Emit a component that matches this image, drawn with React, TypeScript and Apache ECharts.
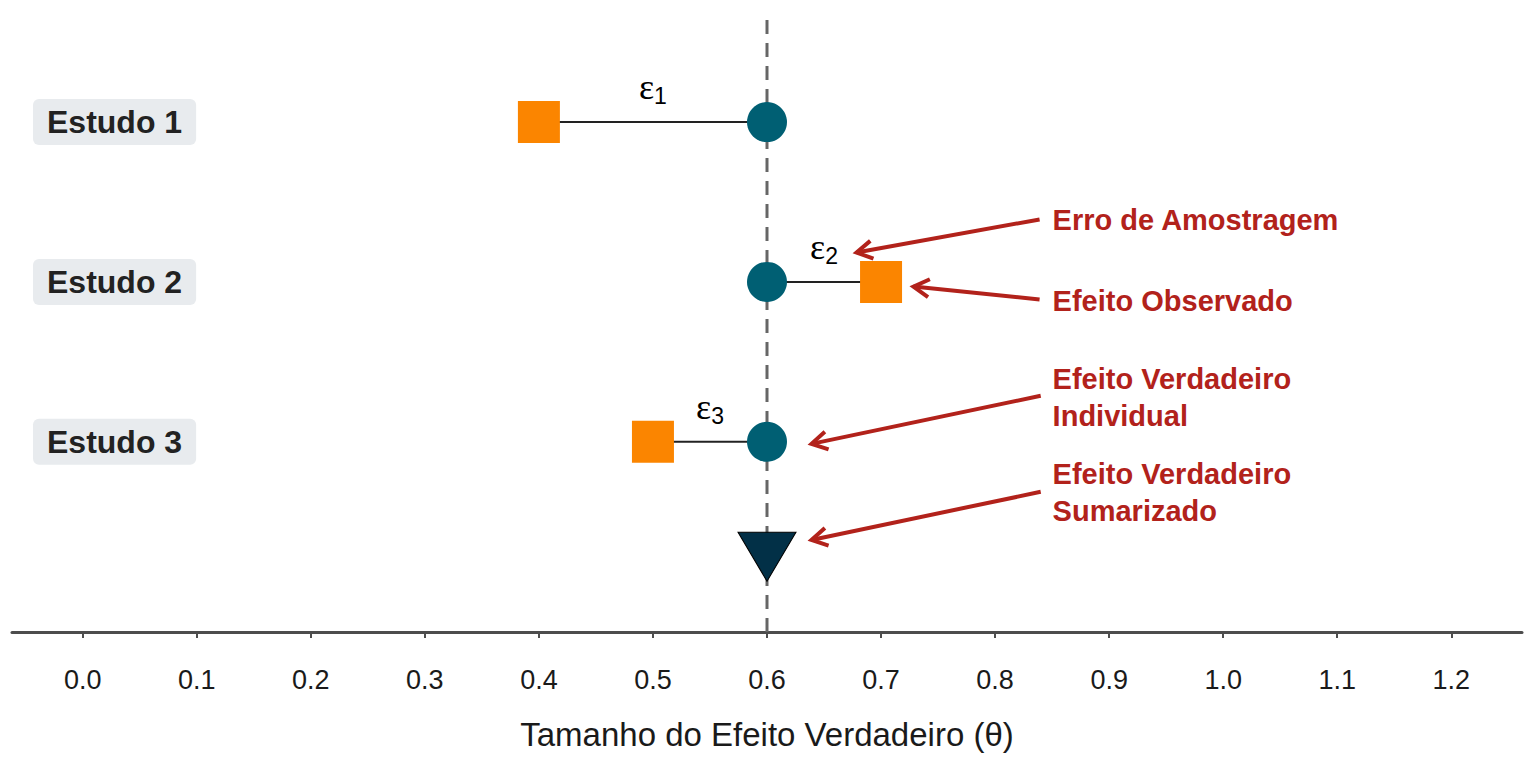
import React, { useEffect, useRef } from "react";
import * as echarts from "echarts";

// ---- data ----
const tickValues = [0, 0.1, 0.2, 0.3, 0.4, 0.5, 0.6, 0.7, 0.8, 0.9, 1.0, 1.1, 1.2];
const studyNames = ["Estudo 1", "Estudo 2", "Estudo 3"];
const studyY = [3, 2, 1];
const observedEffect = [0.4, 0.7, 0.5];
const trueEffect = [0.6, 0.6, 0.6];
const summaryEffect = 0.6;
const summaryY = 0.3;
const epsSub = ["1", "2", "3"];
const epsX = [0.5, 0.65, 0.55];
const epsY = [3.22, 2.22, 1.22];
const noteTexts = [
  "Erro de Amostragem",
  "Efeito Observado",
  "Efeito Verdadeiro\nIndividual",
  "Efeito Verdadeiro\nSumarizado",
];
const noteX = [0.85, 0.85, 0.85, 0.85];
const noteY = [2.385, 1.883, 1.276, 0.68];
const arrowFromX = [0.839, 0.839, 0.84, 0.84];
const arrowFromY = [2.391, 1.89, 1.288, 0.687];
const arrowToX = [0.6785, 0.7284, 0.639, 0.639];
const arrowToY = [2.184, 1.971, 0.987, 0.386];
const xRange = [-0.062, 1.262];
const yRange = [-0.19, 3.67];
const xTitle = "Tamanho do Efeito Verdadeiro (θ)";

const FONT = "'Liberation Sans', Arial, sans-serif";
const SERIF = "'Liberation Serif', 'Times New Roman', serif";
const RED = "#B2221B";
const ORANGE = "#FB8500";
const TEAL = "#005F73";
const NAVY = "#023047";

export default function App() {
  const ref = useRef<HTMLDivElement>(null);
  useEffect(() => {
    if (!ref.current) return;
    const chart = echarts.init(ref.current, null, { renderer: "svg" });

    const segSeries = studyNames.map((name, i) => ({
      type: "line",
      name,
      data: [
        [observedEffect[i], studyY[i]],
        [trueEffect[i], studyY[i]],
      ],
      symbol: "none",
      lineStyle: { color: "#222222", width: 2, opacity: 1 },
      z: 2,
      silent: true,
    }));

    const option: any = {
      animation: false,
      textStyle: { fontFamily: FONT },
      grid: { left: 12, right: 14, top: 15, bottom: 136, containLabel: false },
      xAxis: {
        type: "value",
        min: xRange[0],
        max: xRange[1],
        splitLine: { show: false },
        axisLine: { show: true, onZero: false, lineStyle: { color: "#4D4D4D", width: 3 } },
        axisTick: {
          show: true,
          customValues: tickValues,
          length: 6,
          lineStyle: { color: "#4D4D4D", width: 2 },
        },
        axisLabel: {
          customValues: tickValues,
          formatter: (v: number) => v.toFixed(1),
          fontSize: 27,
          color: "#1A1A1A",
          margin: 34,
          fontFamily: FONT,
        },
        name: xTitle,
        nameLocation: "middle",
        nameGap: 86,
        nameTextStyle: { fontSize: 33, color: "#1A1A1A", fontFamily: FONT },
      },
      yAxis: {
        type: "value",
        min: yRange[0],
        max: yRange[1],
        splitLine: { show: false },
        axisLine: { show: false, onZero: false },
        axisTick: { show: false },
        axisLabel: {
          inside: true,
          customValues: studyY,
          formatter: (v: number) => studyNames[studyY.indexOf(v)] ?? "",
          margin: 21,
          fontSize: 32,
          fontWeight: "bold",
          color: "#222222",
          backgroundColor: "#E8EBEE",
          borderRadius: 6,
          padding: [6, 14, 6, 14],
          lineHeight: 34,
          fontFamily: FONT,
        },
      },
      series: [
        {
          type: "line",
          name: "referencia",
          data: [
            [summaryEffect, yRange[0]],
            [summaryEffect, yRange[1]],
          ],
          symbol: "none",
          lineStyle: { color: "#666666", width: 3, type: [14, 9], opacity: 1 },
          z: 1,
          silent: true,
        },
        ...segSeries,
        {
          type: "scatter",
          name: "observado",
          symbol: "rect",
          symbolSize: 42,
          itemStyle: { color: ORANGE, opacity: 1 },
          data: observedEffect.map((v, i) => [v, studyY[i]]),
          z: 3,
          silent: true,
        },
        {
          type: "scatter",
          name: "verdadeiro",
          symbol: "circle",
          symbolSize: 40,
          itemStyle: { color: TEAL, opacity: 1 },
          data: trueEffect.map((v, i) => [v, studyY[i]]),
          z: 3,
          silent: true,
        },
        {
          type: "scatter",
          name: "sumarizado",
          symbol: "triangle",
          symbolRotate: 180,
          symbolSize: [58, 49],
          symbolOffset: [0, 3],
          itemStyle: { color: NAVY, borderColor: "#000000", borderWidth: 1, opacity: 1 },
          data: [[summaryEffect, summaryY]],
          z: 3,
          silent: true,
        },
        {
          type: "scatter",
          name: "eps",
          symbolSize: 1,
          itemStyle: { color: "transparent", opacity: 1 },
          data: epsX.map((x, i) => [x, epsY[i], epsSub[i]]),
          label: {
            show: true,
            position: "inside",
            formatter: (p: any) => `{e|ε}{s|${p.data[2]}}`,
            rich: {
              e: { fontSize: 36, color: "#000000", fontFamily: SERIF, lineHeight: 34 },
              s: {
                fontSize: 23,
                color: "#000000",
                fontFamily: FONT,
                lineHeight: 22,
                padding: [18, 0, 0, 0],
              },
            },
          },
          z: 4,
          silent: true,
        },
        {
          type: "scatter",
          name: "notes",
          symbolSize: 1,
          itemStyle: { color: "transparent", opacity: 1 },
          data: noteX.map((x, i) => [x, noteY[i], noteTexts[i]]),
          label: {
            show: true,
            position: "right",
            distance: 0,
            align: "left",
            formatter: (p: any) => p.data[2],
            fontSize: 29,
            lineHeight: 37,
            fontWeight: "bold",
            color: RED,
            fontFamily: FONT,
          },
          z: 4,
          silent: true,
        },
        {
          type: "custom",
          name: "arrows",
          silent: true,
          z: 4,
          data: arrowFromX.map((x, i) => [x, arrowFromY[i], arrowToX[i], arrowToY[i]]),
          renderItem: (params: any, api: any) => {
            const p1 = api.coord([api.value(0), api.value(1)]);
            const p2 = api.coord([api.value(2), api.value(3)]);
            const ang = Math.atan2(p2[1] - p1[1], p2[0] - p1[0]);
            const L = 18;
            const a = Math.PI / 6;
            const h1 = [p2[0] - L * Math.cos(ang - a), p2[1] - L * Math.sin(ang - a)];
            const h2 = [p2[0] - L * Math.cos(ang + a), p2[1] - L * Math.sin(ang + a)];
            return {
              type: "group",
              children: [
                {
                  type: "line",
                  shape: { x1: p1[0], y1: p1[1], x2: p2[0], y2: p2[1] },
                  style: { stroke: RED, lineWidth: 4 },
                },
                {
                  type: "polyline",
                  shape: { points: [h1, p2, h2] },
                  style: { stroke: RED, lineWidth: 4, fill: null },
                },
              ],
            };
          },
        },
      ],
    };
    chart.setOption(option);
    return () => chart.dispose();
  }, []);
  return <div ref={ref} style={{ width: 1536, height: 768, margin: -8 }} />;
}
